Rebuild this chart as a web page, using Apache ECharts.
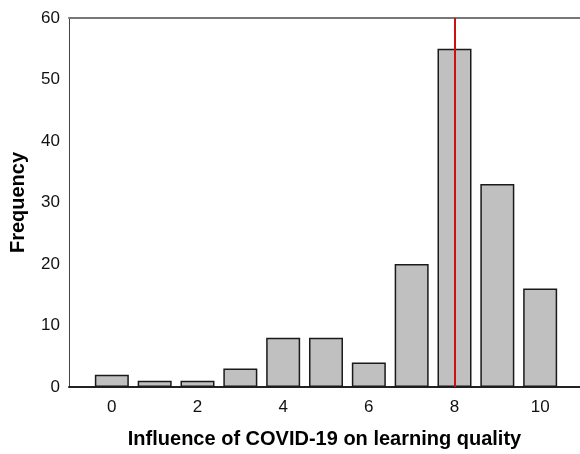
<!DOCTYPE html>
<html>
<head>
<meta charset="utf-8">
<script src="https://cdn.jsdelivr.net/npm/echarts@6/dist/echarts.min.js"></script>
<style>html,body{margin:0;padding:0;background:#fff}#c{width:580px;height:454px}</style>
</head>
<body>
<div id="c"></div>
<script>
var categories = [0, 1, 2, 3, 4, 5, 6, 7, 8, 9, 10];
var frequencies = [2, 1, 1, 3, 8, 8, 4, 20, 55, 33, 16];
var xTickLabels = [0, 2, 4, 6, 8, 10];
var yTicks = [0, 10, 20, 30, 40, 50, 60];
var referenceLineAt = 8;

var chart = echarts.init(document.getElementById('c'), null, {renderer: 'canvas'});
var barData = categories.map(function (c, i) { return [c, frequencies[i]]; });
chart.setOption({
  animation: false,
  backgroundColor: '#ffffff',
  grid: {left: 69, right: 0, top: 18, bottom: 66, containLabel: false},
  xAxis: [{
    type: 'value', min: -1, max: 10.93, interval: 1, position: 'bottom',
    name: 'Influence of COVID-19 on learning quality', nameLocation: 'middle', nameGap: 52,
    nameTextStyle: {fontFamily: 'Liberation Sans, Arial', fontSize: 20, fontWeight: 'bold', color: '#000', verticalAlign: 'middle'},
    axisLine: {show: true, onZero: false, lineStyle: {color: '#222', width: 2}},
    axisTick: {show: false},
    splitLine: {show: false},
    axisLabel: {
      margin: 12, fontFamily: 'Liberation Sans, Arial', fontSize: 17, color: '#111',
      showMaxLabel: false,
      formatter: function (v) { return xTickLabels.indexOf(v) >= 0 ? String(v) : ''; }
    }
  }, {
    type: 'value', min: -1, max: 10.93, position: 'top',
    axisLine: {show: true, onZero: false, lineStyle: {color: '#777', width: 2}},
    axisTick: {show: false}, axisLabel: {show: false}, splitLine: {show: false}
  }],
  yAxis: {
    type: 'value', min: yTicks[0], max: yTicks[yTicks.length - 1], interval: 10,
    name: 'Frequency', nameLocation: 'middle', nameGap: 51, nameRotate: 90,
    nameTextStyle: {fontFamily: 'Liberation Sans, Arial', fontSize: 20, fontWeight: 'bold', color: '#000', verticalAlign: 'middle'},
    axisLine: {show: true, onZero: false, lineStyle: {color: '#444', width: 1}},
    axisTick: {show: false},
    splitLine: {show: false},
    axisLabel: {margin: 9, fontFamily: 'Liberation Sans, Arial', fontSize: 17, color: '#111'}
  },
  series: [{
    type: 'bar', xAxisIndex: 0, barWidth: 34, data: barData,
    itemStyle: {color: '#c0c0c0', borderColor: '#1a1a1a', borderWidth: 1.5},
    markLine: {
      silent: true, symbol: 'none', label: {show: false},
      lineStyle: {color: '#cc1111', width: 2, type: 'solid'},
      data: [{xAxis: referenceLineAt}]
    }
  }]
});
</script>
</body>
</html>
